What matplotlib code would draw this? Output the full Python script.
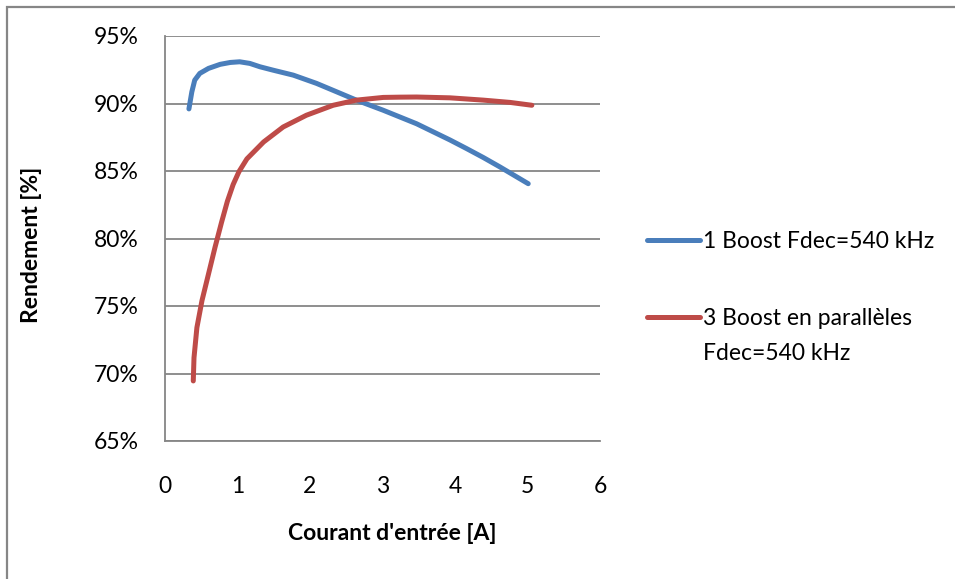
import matplotlib.pyplot as plt
from matplotlib.patches import Rectangle
from matplotlib.ticker import FuncFormatter

plt.rcParams['font.family'] = ['Lato', 'DejaVu Sans']

# 1 Boost Fdec=540 kHz
courant_1 = [0.33, 0.37, 0.41, 0.48, 0.60, 0.76, 0.90, 1.03, 1.17, 1.31, 1.49, 1.77,
             2.09, 2.37, 2.64, 3.01, 3.24, 3.47, 3.70, 3.93, 4.16, 4.39, 4.62, 5.01]
rend_1 = [89.6, 90.86, 91.73, 92.23, 92.6, 92.9, 93.04, 93.09, 92.97, 92.72, 92.47, 92.1,
          91.49, 90.86, 90.25, 89.5, 89.0, 88.5, 87.9, 87.3, 86.66, 86.0, 85.3, 84.06]

# 3 Boost en parallèles
courant_3 = [0.39, 0.40, 0.44, 0.51, 0.60, 0.69, 0.78, 0.86, 0.94, 1.02, 1.13, 1.36, 1.63,
             1.95, 2.32, 2.64, 3.01, 3.24, 3.47, 3.93, 4.39, 4.76, 5.06]
rend_3 = [69.45, 71.17, 73.4, 75.4, 77.37, 79.35, 81.2, 82.75, 84.0, 84.95, 85.9, 87.15, 88.26,
          89.13, 89.87, 90.25, 90.45, 90.47, 90.48, 90.42, 90.25, 90.08, 89.87]

fig = plt.figure(figsize=(9.55, 5.79), dpi=100)
ax = fig.add_axes([165 / 955, 1 - 441 / 579, 435 / 955, 405 / 579])

grey = '#868686'
fs = 16.5
ax.plot(courant_1, rend_1, color='#4A7EBB', lw=3.6, solid_capstyle='round',
        label='1 Boost Fdec=540 kHz', zorder=3)
ax.plot(courant_3, rend_3, color='#BE4B48', lw=3.6, solid_capstyle='round',
        label='3 Boost en parallèles', zorder=3)

ax.set_xlim(0, 6)
ax.set_ylim(65, 95)
ax.set_xticks(range(0, 7))
ax.set_yticks(range(65, 96, 5))
ax.yaxis.set_major_formatter(FuncFormatter(lambda v, p: f'{v:.0f}%'))
ax.grid(axis='y', color=grey, lw=1.3)
ax.set_axisbelow(True)
for s in ['top', 'right']:
    ax.spines[s].set_visible(False)
for s in ['left', 'bottom']:
    ax.spines[s].set_color(grey)
    ax.spines[s].set_linewidth(1.3)
ax.tick_params(axis='both', length=0, labelsize=fs)
ax.tick_params(axis='y', pad=19)
ax.tick_params(axis='x', pad=25)

fig.text(392 / 955, 1 - 533 / 579, "Courant d'entrée [A]", fontsize=fs, fontweight='bold',
         ha='center', va='center')
fig.text(32 / 955, 1 - 245 / 579, 'Rendement [%]', fontsize=fs, fontweight='bold',
         ha='center', va='center', rotation=90)

leg = fig.legend(loc='upper left', bbox_to_anchor=(638 / 955, 1 - 222 / 579), frameon=False,
                 fontsize=fs, handlelength=2.3, handletextpad=0.15, labelspacing=2.45,
                 borderaxespad=0)
# second line of the red legend entry, under its text
fig.text(703 / 955, 1 - 353 / 579, 'Fdec=540 kHz', fontsize=fs, ha='left', va='center')

# outer chart border
fig.patches.append(Rectangle((7 / 955, -0.1), 1.0, 1.1 - 7 / 579, transform=fig.transFigure,
                             fill=False, edgecolor=grey, lw=1.6))

fig.savefig('out.png', dpi=100)
